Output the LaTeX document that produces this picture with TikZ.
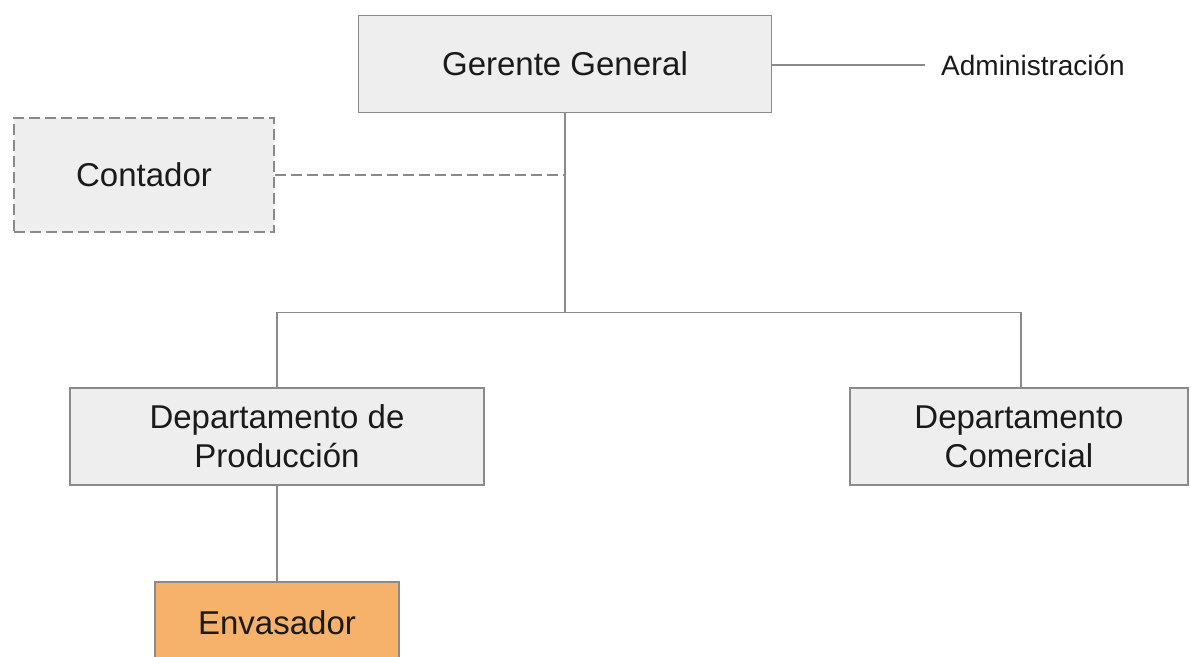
\documentclass[tikz,border=0pt]{standalone}
\usepackage{fontspec}
\setmainfont{Liberation Sans}
\definecolor{boxfill}{HTML}{EEEEEE}
\definecolor{boxline}{HTML}{8A8A8A}
\definecolor{orangefill}{HTML}{F6B26B}
\definecolor{txt}{HTML}{1A1A1A}
\begin{document}
\begin{tikzpicture}[x=1pt,y=-1pt,
  orgbox/.style={draw=boxline,line width=1.6pt,fill=boxfill,inner sep=0pt,
    align=center,text=txt,font=\fontsize{33}{39}\selectfont},
  conn/.style={draw=boxline,line width=1.6pt},
  dashconn/.style={draw=boxline,line width=1.6pt,dash pattern=on 11pt off 5pt}]
\useasboundingbox (0,0) rectangle (1191,656);
\clip (0,0) rectangle (1191,656);
\node[orgbox,minimum width=413pt,minimum height=97pt] (ger) at (565,64) {Gerente General};
\node[orgbox,dashconn,fill=boxfill,minimum width=260pt,minimum height=114pt] (cont) at (144,175) {Contador};
\node[orgbox,minimum width=414pt,minimum height=97pt] (prod) at (277,436.5) {Departamento de\\Producción};
\node[orgbox,minimum width=338pt,minimum height=97pt] (com) at (1019,436.5) {Departamento\\Comercial};
\node[orgbox,fill=orangefill,minimum width=244pt,minimum height=82pt] (env) at (277,623) {Envasador};
\node[anchor=west,inner sep=0pt,text=txt,font=\fontsize{28}{33}\selectfont] (adm) at (941,65) {Administración};
\coordinate (admend) at (925,65);
\coordinate (bus) at (565,312.5);
\coordinate (comtop) at ([xshift=2pt]com.north);
\draw[conn] (ger.east |- admend) -- (admend);
\draw[conn] (ger.south) -- (bus);
\draw[dashconn] (cont.east) -- (cont.east -| bus);
\draw[conn] (prod.north) |- (bus) -| (comtop);
\draw[conn] (prod.south) -- (env.north);
\end{tikzpicture}
\end{document}
